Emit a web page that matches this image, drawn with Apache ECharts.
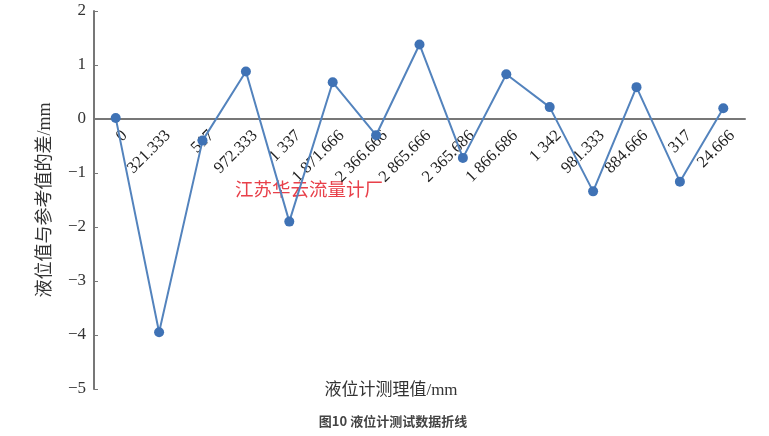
<!DOCTYPE html>
<html><head><meta charset="utf-8">
<script src="https://cdn.jsdelivr.net/npm/echarts@6/dist/echarts.min.js"></script>
<style>html,body{margin:0;padding:0;background:#fff}#c{width:769px;height:436px}</style>
</head><body><div id="c"></div>
<script>
const categories = ["0","321.333","517","972.333","1 337","1 871.666","2 366.666","2 865.666","2 365.686","1 866.686","1 342","981.333","884.666","317","24.666"];
const diffValues = [0.02,-3.95,-0.4,0.88,-1.9,0.68,-0.3,1.38,-0.72,0.83,0.22,-1.34,0.59,-1.16,0.2];
const yTicks = {min:-5, max:2, interval:1};
const xName = "液位计测理值/mm";
const yName = "液位值与参考值的差/mm";
const caption = "图10 液位计测试数据折线";
const watermark = "江苏华云流量计厂";

const chart = echarts.init(document.getElementById('c'));
const serif = "'Liberation Serif','Times New Roman','Noto Sans CJK SC',serif";
const labelStyle = {rotate:45,interval:0,margin:14,fontFamily:serif,fontSize:16.5,color:'#222'};
function build(offset){
  return {
  animation:false,
  backgroundColor:'#fff',
  grid:[
    {left:94,top:11,right:24,bottom:47,containLabel:false},
    {left:103,top:11,right:15,bottom:47,containLabel:false}
  ],
  title:[
    {text:xName,left:386,top:377,textAlign:'center',textStyle:{fontFamily:serif,fontSize:17,fontWeight:'normal',color:'#333'}},
    {text:caption,left:388,top:410,textAlign:'center',textStyle:{fontFamily:"'Noto Sans CJK SC',sans-serif",fontSize:13,fontWeight:'bold',color:'#444'}}
  ],
  graphic:[{type:'text',left:235,top:180,style:{text:watermark,fill:'#e8404a',font:"18.5px 'Noto Sans CJK SC',serif"}}],
  xAxis:[
    {type:'category',gridIndex:0,data:categories,boundaryGap:true,
     axisLine:{onZero:true,lineStyle:{color:'#777',width:2}},
     axisTick:{show:false},axisLabel:{show:false},splitLine:{show:false}},
    {type:'category',gridIndex:1,data:categories,boundaryGap:true,position:'bottom',offset:offset,
     axisLine:{show:false,onZero:false},axisTick:{show:false},
     axisLabel:labelStyle,splitLine:{show:false}}
  ],
  yAxis:[
    {type:'value',gridIndex:0,min:yTicks.min,max:yTicks.max,interval:yTicks.interval,
    name:yName,nameLocation:'middle',nameGap:40,
    nameTextStyle:{fontFamily:serif,fontSize:18,color:'#333'},
    axisLine:{show:true,onZero:false,lineStyle:{color:'#777',width:2}},
    axisTick:{show:true,inside:true,length:4,lineStyle:{color:'#777'}},
    axisLabel:{fontFamily:serif,fontSize:17,color:'#333',margin:8,formatter:v=>v<0?'\u2212'+Math.abs(v):String(v)},
    splitLine:{show:false}},
    {type:'value',gridIndex:1,min:yTicks.min,max:yTicks.max,interval:yTicks.interval,show:false}
  ],
  series:[{type:'line',xAxisIndex:0,yAxisIndex:0,data:diffValues,symbol:'circle',symbolSize:10,z:3,
    lineStyle:{color:'#5383bd',width:2},itemStyle:{color:'#3f72b5'}}]
  };
}
chart.setOption(build(0));
const zeroY = chart.convertToPixel({yAxisIndex:0},0);
const minY = chart.convertToPixel({yAxisIndex:0},yTicks.min);
chart.setOption(build(zeroY-minY));
</script></body></html>
